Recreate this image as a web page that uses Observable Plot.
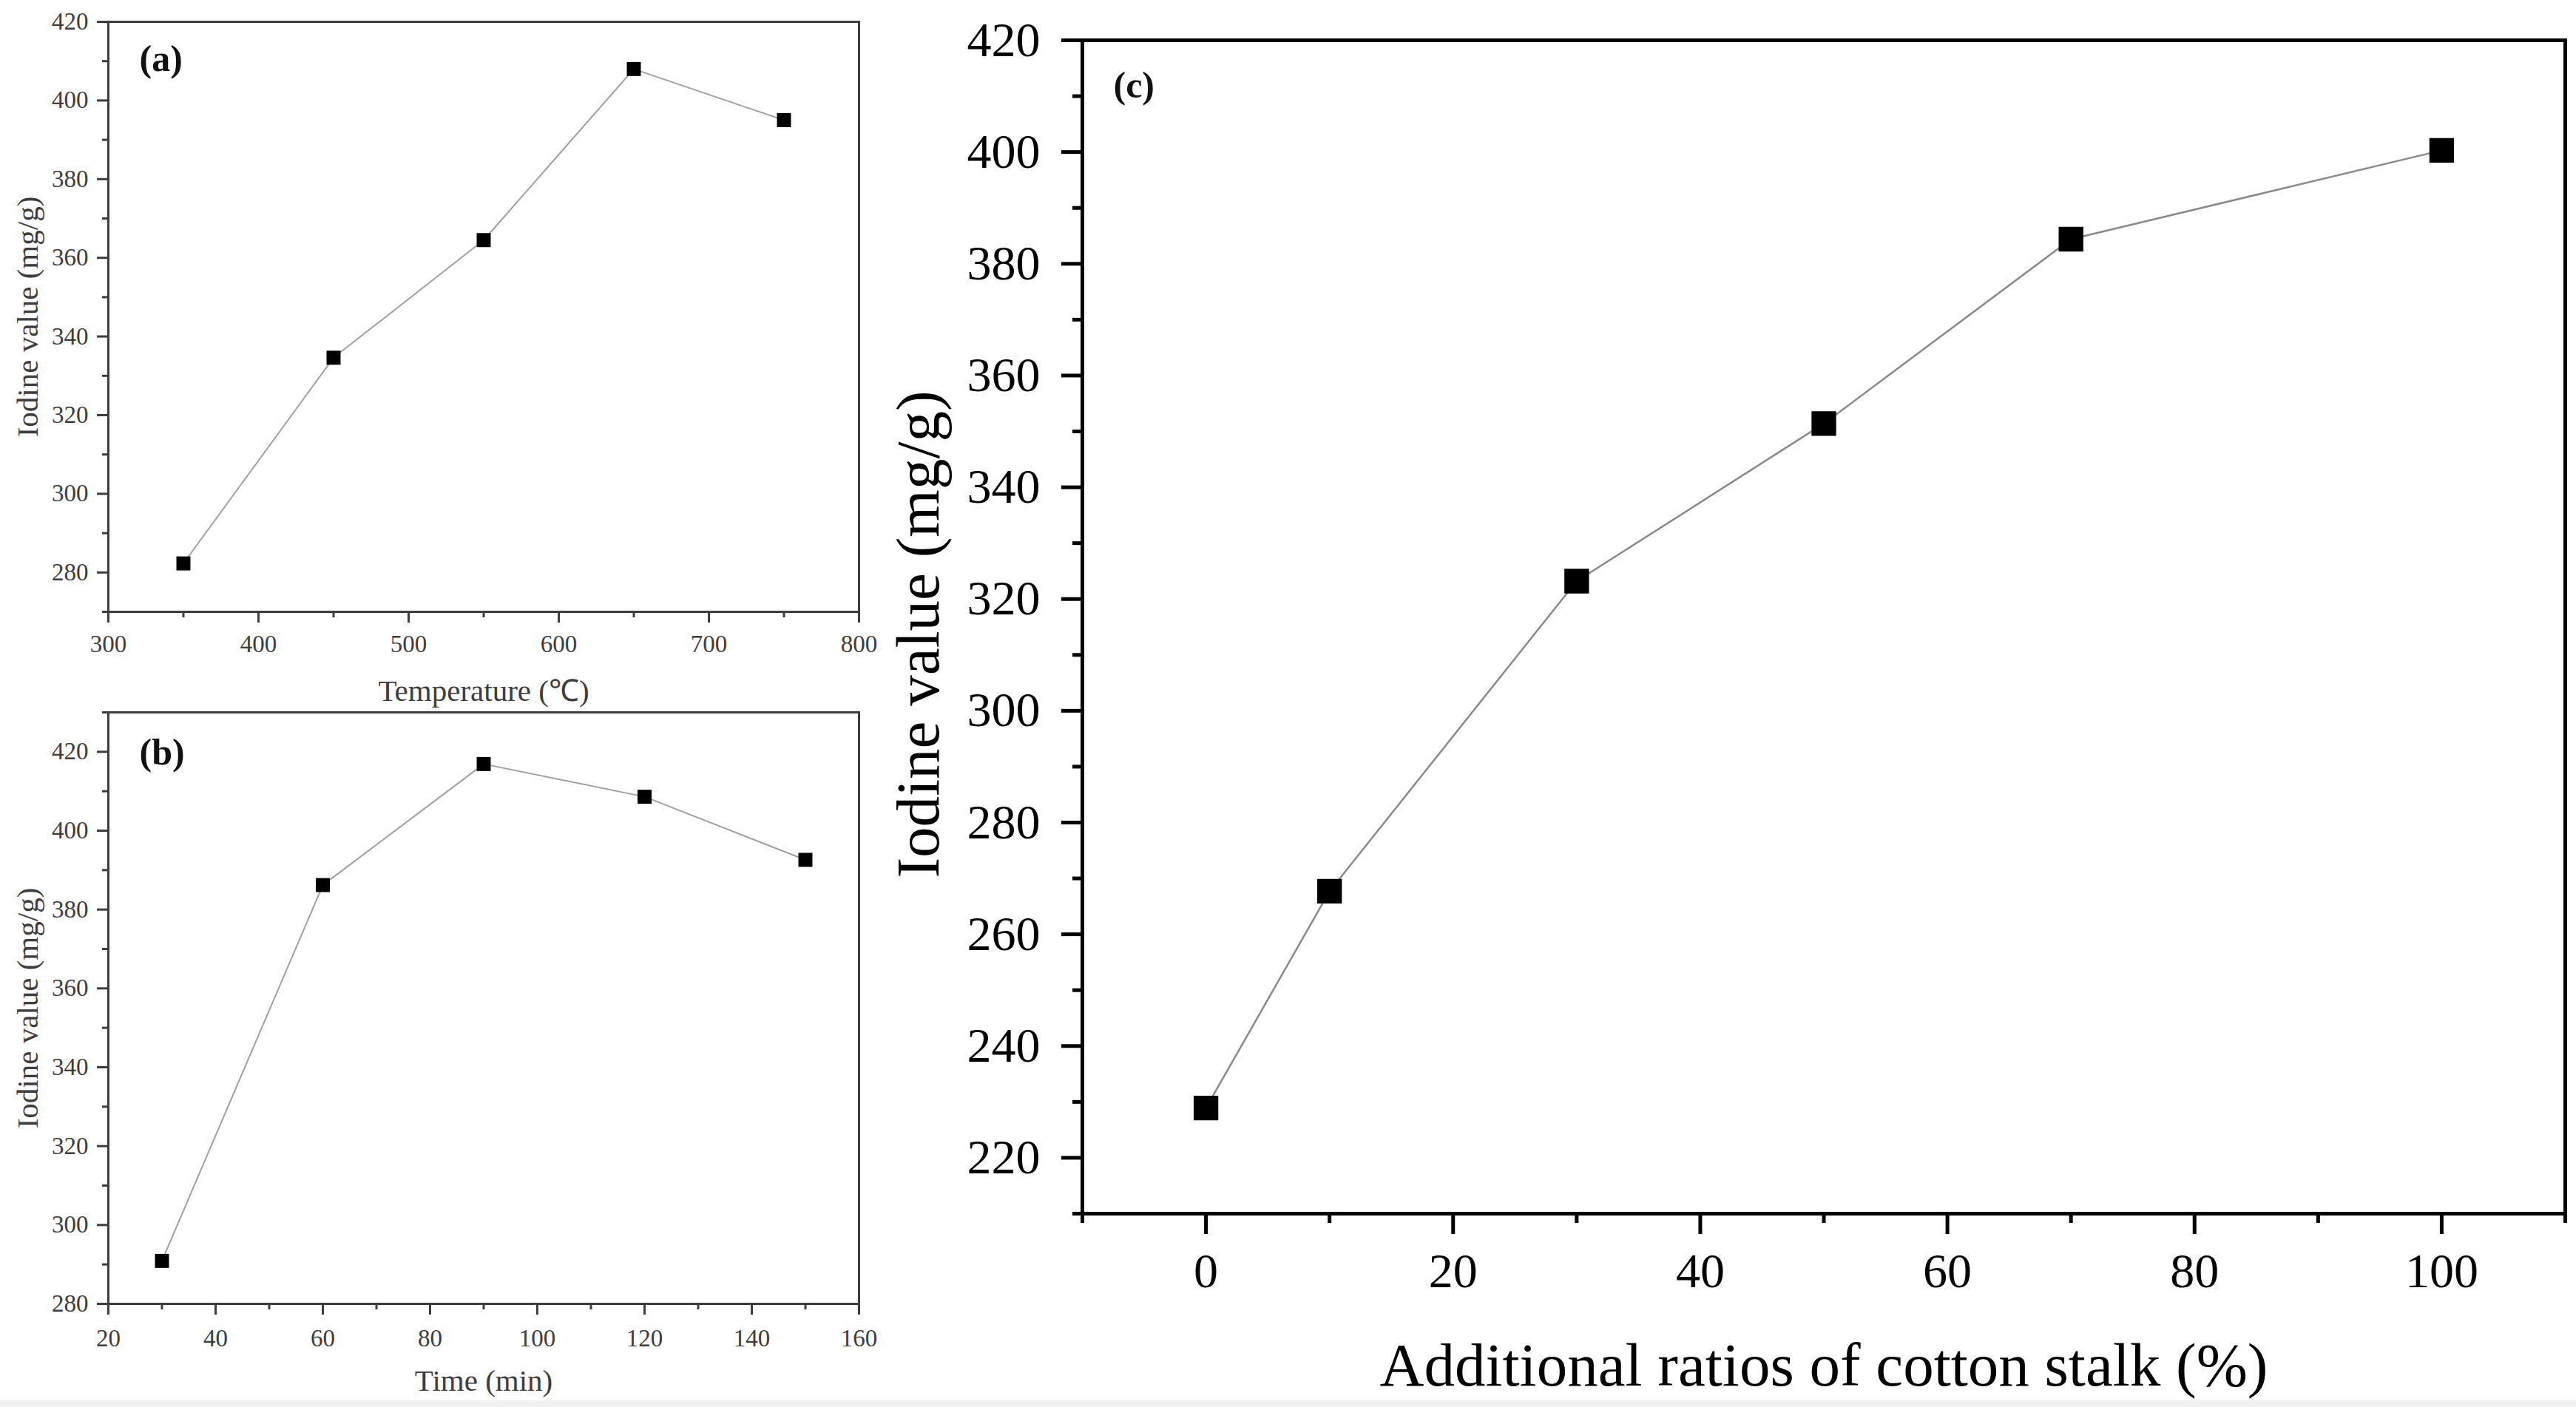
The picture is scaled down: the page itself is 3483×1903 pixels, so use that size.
<!DOCTYPE html>
<html><head><meta charset="utf-8">
<script src="https://cdn.jsdelivr.net/npm/d3@7"></script>
<script src="https://cdn.jsdelivr.net/npm/@observablehq/plot@0.6"></script>
<style>
html,body{margin:0;padding:0;background:#fff;}
#root{position:relative;width:3483px;height:1903px;overflow:hidden;background:#fff;font-family:"Liberation Serif","Times New Roman",serif;}
.panel{position:absolute;}
#strip{position:absolute;left:0;top:1894px;width:3483px;height:9px;background:#f1f1f1;}
</style></head><body><div id="root"><div id="strip"></div></div>
<script>
// Panel (a): temperature series
const temperature = [350, 450, 550, 650, 750];
const iodineByTemperature = [282.3, 334.6, 364.5, 408.0, 395.0];
const tempTicks = [300, 400, 500, 600, 700, 800];
const tempMinor = [350, 450, 550, 650, 750];
const yTicksA = [280, 300, 320, 340, 360, 380, 400, 420];
const yMinorA = [270, 290, 310, 330, 350, 370, 390, 410];

// Panel (b): time series
const timeMin = [30, 60, 90, 120, 150];
const iodineByTime = [290.9, 386.2, 416.9, 408.6, 392.6];
const timeTicks = [20, 40, 60, 80, 100, 120, 140, 160];
const timeMinor = [30, 50, 70, 90, 110, 130, 150];
const yTicksB = [280, 300, 320, 340, 360, 380, 400, 420];
const yMinorB = [290, 310, 330, 350, 370, 390, 410, 430];

// Panel (c): cotton stalk ratio series
const ratioPct = [0, 10, 30, 50, 70, 100];
const iodineByRatio = [228.9, 267.7, 323.2, 351.4, 384.4, 400.3];
const ratioTicks = [0, 20, 40, 60, 80, 100];
const ratioMinor = [-10, 10, 30, 50, 70, 90, 110];
const yTicksC = [220, 240, 260, 280, 300, 320, 340, 360, 380, 400, 420];
const yMinorC = [210, 230, 250, 270, 290, 310, 330, 350, 370, 390, 410];

const yTitle = "Iodine value (mg/g)";

function panel(c) {
  const data = c.xs.map((x, i) => ({x, y: c.ys[i]}));
  const col = c.color;
  return Plot.plot({
    width: c.width, height: c.height,
    marginLeft: c.ml, marginRight: c.mr, marginTop: c.mt, marginBottom: c.mb,
    style: {fontFamily: '"Liberation Serif", "Times New Roman", serif', background: "transparent", color: col, overflow: "visible"},
    x: {domain: c.xDomain, label: null},
    y: {domain: c.yDomain, label: null},
    marks: [
      Plot.axisX({ticks: c.xMinor, tickSize: c.tMinor, tickFormat: () => "", stroke: col, strokeWidth: c.aw}),
      Plot.axisX({ticks: c.xTicks, tickSize: c.tMajor, tickPadding: c.xPad, tickFormat: d => String(d), fontSize: c.tickFont, stroke: col, strokeWidth: c.aw, fill: col}),
      Plot.axisY({ticks: c.yMinor, tickSize: c.tMinor, tickFormat: () => "", stroke: col, strokeWidth: c.aw}),
      Plot.axisY({ticks: c.yTicks, tickSize: c.tMajor, tickPadding: c.yPad, tickFormat: d => String(d), fontSize: c.tickFont, stroke: col, strokeWidth: c.aw, fill: col}),
      Plot.frame({stroke: col, strokeWidth: c.aw}),
      Plot.line(data, {x: "x", y: "y", stroke: c.lineColor, strokeWidth: c.lw}),
      Plot.dot(data, {x: "x", y: "y", symbol: "square", r: c.r, fill: "#000", stroke: "none"}),
      Plot.text([c.xTitle], {text: d => d, frameAnchor: "bottom", dy: c.xTitleDy, fontSize: c.titleFont, fill: col, textAnchor: "middle", lineAnchor: "middle"}),
      Plot.text([yTitle], {text: d => d, frameAnchor: "left", dx: c.yTitleDx, dy: c.yTitleDy, rotate: -90, fontSize: c.titleFont, fill: col, textAnchor: "middle", lineAnchor: "middle"}),
      Plot.text([c.tag], {text: d => d, frameAnchor: "top-left", dx: c.tagDx, dy: c.tagDy, textAnchor: "start", lineAnchor: "middle", fontWeight: "bold", fontSize: c.tagFont, fill: "#111"})
    ]
  });
}

function place(svg, left, top) {
  const d = document.createElement("div");
  d.className = "panel";
  d.style.left = left + "px";
  d.style.top = top + "px";
  d.appendChild(svg);
  document.getElementById("root").appendChild(d);
}

const small = {color: "#3d3d3d", aw: 3, tMajor: 15, tMinor: 8, tickFont: 33, xPad: 16, yPad: 12,
  lineColor: "#a0a0a0", lw: 2, r: 10.7, titleFont: 41, tagFont: 50, tagDx: 42, tagDy: 50, yTitleDx: -109, yTitleDy: 0};

place(panel({...small,
  xs: temperature, ys: iodineByTemperature,
  xDomain: [300, 800], yDomain: [270, 420],
  xTicks: tempTicks, xMinor: tempMinor, yTicks: yTicksA, yMinor: yMinorA,
  width: 1200, height: 960, ml: 146, mr: 39, mt: 29, mb: 133,
  xTitle: "Temperature (\u2103)", xTitleDy: 107, tag: "(a)"
}), 0, 0);

place(panel({...small,
  xs: timeMin, ys: iodineByTime,
  xDomain: [20, 160], yDomain: [280, 430],
  xTicks: timeTicks, xMinor: timeMinor, yTicks: yTicksB, yMinor: yMinorB,
  width: 1200, height: 963, ml: 146, mr: 39, mt: 23, mb: 140,
  xTitle: "Time (min)", xTitleDy: 104, tag: "(b)", tagDy: 54, xPad: 19
}), 0, 940);

place(panel({
  color: "#000", aw: 5, tMajor: 28, tMinor: 13, tickFont: 66, xPad: 25, yPad: 29,
  lineColor: "#8a8a8a", lw: 2.5, r: 18.8, titleFont: 83, tagFont: 50, tagDx: 42, tagDy: 61, yTitleDx: -221, yTitleDy: 10,
  xs: ratioPct, ys: iodineByRatio,
  xDomain: [-10, 110], yDomain: [210, 420],
  xTicks: ratioTicks, xMinor: ratioMinor, yTicks: yTicksC, yMinor: yMinorC,
  width: 2283, height: 1903, ml: 263, mr: 15, mt: 54, mb: 262,
  xTitle: "Additional ratios of cotton stalk (%)", xTitleDy: 206, tag: "(c)"
}), 1200, 0);
</script></body></html>
